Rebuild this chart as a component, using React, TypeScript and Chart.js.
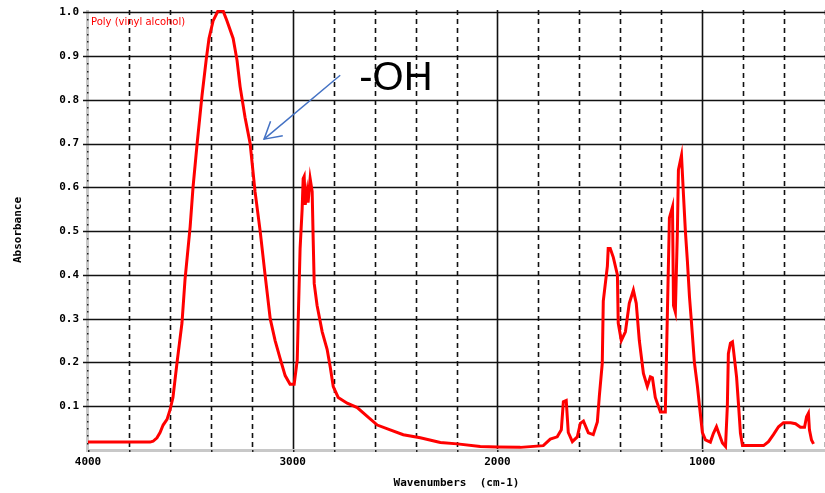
import React, { useEffect, useRef } from "react";
import { Chart, registerables } from "chart.js";

Chart.register(...registerables);

// Wavenumber (cm-1) of each sampled point of the spectrum
const wavenumbers = [
  4000, 3844, 3697, 3682, 3663, 3648, 3633, 3614, 3599, 3585, 3565, 3541, 3526, 3501, 3487, 3467,
  3443, 3423, 3409, 3389, 3365, 3340, 3321, 3291, 3272, 3257, 3233, 3208, 3184, 3159, 3135, 3110,
  3086, 3062, 3037, 3013, 2993, 2978, 2973, 2964, 2954, 2949, 2944, 2939, 2930, 2925, 2915, 2905,
  2900, 2895, 2881, 2856, 2832, 2817, 2802, 2778, 2734, 2685, 2636, 2587, 2524, 2460, 2377, 2279,
  2196, 2084, 2001, 1888, 1776, 1742, 1708, 1688, 1678, 1664, 1654, 1634, 1610, 1595, 1580, 1556,
  1532, 1512, 1502, 1488, 1483, 1463, 1459, 1449, 1434, 1414, 1410, 1395, 1375, 1356, 1336, 1322,
  1307, 1287, 1268, 1253, 1243, 1229, 1204, 1180, 1170, 1160, 1145, 1140, 1131, 1121, 1116, 1101,
  1091, 1082, 1072, 1062, 1052, 1038, 1023, 1013, 999, 984, 960, 945, 930, 920, 901, 886,
  877, 872, 862, 852, 847, 832, 823, 813, 803, 764, 700, 676, 652, 627, 603, 568,
  544, 520, 500, 490, 481, 476, 466, 456,
];

// Absorbance at each wavenumber above
const absorbance = [
  0.018, 0.018, 0.018, 0.02, 0.028, 0.04, 0.057, 0.07, 0.092, 0.12, 0.2, 0.29, 0.39, 0.51, 0.6, 0.7,
  0.81, 0.89, 0.94, 0.98, 1.003, 1.003, 0.98, 0.94, 0.89, 0.83, 0.76, 0.7, 0.59, 0.5, 0.4, 0.3,
  0.25, 0.21, 0.17, 0.15, 0.15, 0.205, 0.3, 0.46, 0.55, 0.62, 0.625, 0.56, 0.59, 0.565, 0.62, 0.59,
  0.48, 0.38, 0.33, 0.27, 0.23, 0.19, 0.145, 0.12, 0.107, 0.097, 0.077, 0.057, 0.046, 0.035, 0.028, 0.017,
  0.014, 0.008, 0.007, 0.006, 0.01, 0.025, 0.03, 0.046, 0.11, 0.113, 0.04, 0.019, 0.03, 0.061, 0.066, 0.039,
  0.035, 0.064, 0.125, 0.198, 0.34, 0.42, 0.46, 0.46, 0.44, 0.4, 0.29, 0.25, 0.27, 0.335, 0.365, 0.335,
  0.25, 0.175, 0.145, 0.167, 0.165, 0.12, 0.087, 0.087, 0.31, 0.53, 0.555, 0.33, 0.315, 0.5, 0.64, 0.673,
  0.58, 0.5, 0.43, 0.35, 0.29, 0.2, 0.145, 0.1, 0.04, 0.023, 0.018, 0.038, 0.053, 0.04, 0.016, 0.008,
  0.1, 0.22, 0.244, 0.247, 0.228, 0.167, 0.107, 0.038, 0.01, 0.01, 0.01, 0.019, 0.035, 0.053, 0.062, 0.062,
  0.06, 0.052, 0.052, 0.076, 0.084, 0.046, 0.023, 0.014,
];

const seriesLabel = "Poly (vinyl alcohol)";
const xTitle = "Wavenumbers  (cm-1)";
const yTitle = "Absorbance";
const xLabelledTicks = [4000, 3000, 2000, 1000];
const xMin = 400;
const xMax = 4000;
const xStep = 200;
const yMin = 0;
const yMax = 1.005;
const yStep = 0.1;

const annotationText = "-OH";
const annotationAnchor = { x: 2675, y: 0.822 };
const arrowTail = { x: 2768, y: 0.856 };
const arrowTip = { x: 3140, y: 0.71 };

export default function App() {
  const canvasRef = useRef<HTMLCanvasElement | null>(null);

  useEffect(() => {
    const canvas = canvasRef.current;
    if (!canvas) return;

    const gridPlugin = {
      id: "irGrid",
      beforeDatasetsDraw(chart: any) {
        const { ctx, chartArea: a, scales } = chart;
        const xs = scales.x;
        const ys = scales.y;
        ctx.save();
        // gray axes
        ctx.fillStyle = "#c8c8c8";
        ctx.fillRect(a.left - 2, a.top, 3, a.bottom - a.top + 1);
        ctx.fillRect(a.left - 2, a.bottom - 1, a.right - a.left + 2, 3);

        // vertical grid lines
        ctx.strokeStyle = "#111";
        ctx.lineWidth = 1.6;
        xs.ticks.forEach((t: any) => {
          if (t.value === xMax) return;
          const px = Math.round(xs.getPixelForValue(t.value)) + 0.5;
          const solid = t.value % 1000 === 0;
          ctx.setLineDash(solid ? [] : [5, 4]);
          ctx.beginPath();
          ctx.moveTo(px, a.top);
          ctx.lineTo(px, a.bottom - 1);
          ctx.stroke();
        });
        ctx.setLineDash([]);

        // horizontal grid lines
        ys.ticks.forEach((t: any) => {
          if (t.value <= yMin) return;
          const py = Math.round(ys.getPixelForValue(t.value)) + 0.5;
          ctx.beginPath();
          ctx.moveTo(a.left - 5, py);
          ctx.lineTo(a.right, py);
          ctx.stroke();
        });

        // minor dots on the left axis
        ctx.fillStyle = "#222";
        const yt = ys.ticks.map((t: any) => t.value);
        for (let i = 0; i < yt.length - 1; i++) {
          for (let k = 1; k < 6; k++) {
            const v = yt[i] + ((yt[i + 1] - yt[i]) * k) / 6;
            const py = Math.round(ys.getPixelForValue(v));
            ctx.fillRect(a.left - 1, py, 1.5, 1.5);
          }
        }
        // dots on the bottom axis
        xs.ticks.forEach((t: any) => {
          const px = Math.round(xs.getPixelForValue(t.value));
          ctx.fillRect(px, a.bottom, 1.5, 2);
        });
        ctx.restore();
      },
      afterDraw(chart: any) {
        const { ctx, chartArea: a, scales } = chart;
        const xs = scales.x;
        const ys = scales.y;
        ctx.save();
        // series label
        ctx.fillStyle = "#ff0000";
        ctx.font = "10px 'DejaVu Sans', sans-serif";
        ctx.textBaseline = "alphabetic";
        ctx.textAlign = "left";
        ctx.fillText(chart.data.datasets[0].label, a.left + 3, a.top + 15);

        // annotation text
        ctx.fillStyle = "#000";
        ctx.font = "40px 'Liberation Sans', Arial, sans-serif";
        ctx.fillText(
          annotationText,
          xs.getPixelForValue(annotationAnchor.x),
          ys.getPixelForValue(annotationAnchor.y)
        );

        // arrow
        const x1 = xs.getPixelForValue(arrowTail.x);
        const y1 = ys.getPixelForValue(arrowTail.y);
        const x2 = xs.getPixelForValue(arrowTip.x);
        const y2 = ys.getPixelForValue(arrowTip.y);
        ctx.strokeStyle = "#4472c4";
        ctx.lineWidth = 1.5;
        ctx.beginPath();
        ctx.moveTo(x1, y1);
        ctx.lineTo(x2, y2);
        ctx.stroke();
        const ang = Math.atan2(y1 - y2, x1 - x2);
        const len = 19;
        const spread = Math.PI / 6;
        ctx.beginPath();
        ctx.moveTo(x2 + len * Math.cos(ang - spread), y2 + len * Math.sin(ang - spread));
        ctx.lineTo(x2, y2);
        ctx.lineTo(x2 + len * Math.cos(ang + spread), y2 + len * Math.sin(ang + spread));
        ctx.stroke();
        ctx.restore();
      },
    };

    const chart = new Chart(canvas, {
      type: "line",
      data: {
        datasets: [
          {
            label: seriesLabel,
            data: wavenumbers.map((w, i) => ({ x: w, y: absorbance[i] })),
            borderColor: "#ff0000",
            borderWidth: 3,
            pointRadius: 0,
            tension: 0,
            fill: false,
          },
        ],
      },
      options: {
        responsive: false,
        animation: false,
        devicePixelRatio: 1,
        layout: { padding: { top: 10, right: 0, bottom: 0, left: 0 } },
        plugins: {
          legend: { display: false },
          tooltip: { enabled: false },
        },
        scales: {
          x: {
            type: "linear",
            reverse: true,
            min: xMin,
            max: xMax,
            grid: { display: false, drawTicks: false },
            border: { display: false },
            ticks: {
              stepSize: xStep,
              autoSkip: false,
              maxRotation: 0,
              padding: 6,
              color: "#000",
              font: { family: "'DejaVu Sans Mono', monospace", size: 11, weight: "bold" },
              callback: (v: any) => (xLabelledTicks.includes(Number(v)) ? String(v) : ""),
            },
            title: {
              display: true,
              text: xTitle,
              color: "#000",
              font: { family: "'DejaVu Sans Mono', monospace", size: 11, weight: "bold" },
              padding: { top: 0, bottom: 3 },
            },
            afterFit: (s: any) => {
              s.height = 43;
              s.paddingLeft = 0;
              s.paddingRight = 0;
            },
          },
          y: {
            type: "linear",
            min: yMin,
            max: yMax,
            grid: { display: false, drawTicks: false },
            border: { display: false },
            ticks: {
              stepSize: yStep,
              includeBounds: false,
              padding: 9,
              color: "#000",
              font: { family: "'DejaVu Sans Mono', monospace", size: 11, weight: "bold" },
              callback: (v: any) => (Number(v) <= 0 ? "" : Number(v).toFixed(1)),
            },
            title: {
              display: true,
              text: yTitle,
              color: "#000",
              font: { family: "'DejaVu Sans Mono', monospace", size: 11, weight: "bold" },
              padding: { top: 12, bottom: 0 },
            },
            afterFit: (s: any) => {
              s.width = 88;
              s.paddingTop = 0;
              s.paddingBottom = 0;
            },
          },
        },
      },
      plugins: [gridPlugin],
    });

    return () => chart.destroy();
  }, []);

  return (
    <div style={{ position: "absolute", left: 0, top: 0, width: 825, height: 493, background: "#fff" }}>
      <canvas ref={canvasRef} width={825} height={493} style={{ display: "block", width: 825, height: 493 }} />
    </div>
  );
}
